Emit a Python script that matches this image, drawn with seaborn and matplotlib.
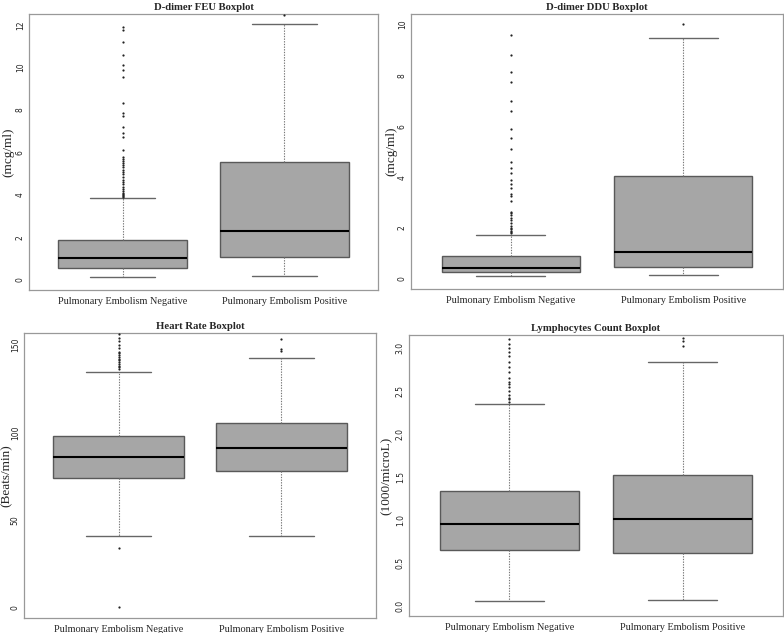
import pandas as pd
import matplotlib
matplotlib.use('Agg')
import matplotlib.pyplot as plt
import seaborn as sns

groups = ['Pulmonary Embolism Negative', 'Pulmonary Embolism Positive']

# box summary values: [lower whisker, Q1, median, Q3, upper whisker]
feu_neg = [0.14, 0.55, 1.02, 1.90, 3.87]
feu_pos = [0.17, 1.07, 2.31, 5.54, 12.06]
feu_neg_out = [3.92, 3.95, 4.0, 4.05, 4.1, 4.2, 4.3, 4.4, 4.5, 4.6, 4.7, 4.85, 5.0,
               5.1, 5.2, 5.3, 5.4, 5.5, 5.6, 5.7, 5.8, 6.12, 6.75, 6.9, 7.18, 7.72,
               7.87, 8.35, 9.54, 9.9, 10.1, 10.6, 11.18, 11.75, 11.9]
feu_pos_out = [12.49]

ddu_neg = [0.13, 0.27, 0.44, 0.89, 1.74]
ddu_pos = [0.16, 0.46, 1.05, 4.05, 9.45]
ddu_neg_out = [1.8, 1.85, 1.9, 1.95, 2.0, 2.1, 2.2, 2.3, 2.4, 2.5, 2.6, 2.65, 3.05,
               3.24, 3.33, 3.57, 3.73, 3.9, 4.16, 4.35, 4.61, 5.11, 5.53, 5.9, 6.6,
               6.97, 7.74, 8.12, 8.8, 9.58]
ddu_pos_out = [10.0]

hr_neg = [40.9, 74.1, 86.0, 98.0, 134.2]
hr_pos = [40.9, 78.0, 91.2, 105.1, 142.2]
hr_neg_out = [0, 33.9, 136, 137, 138, 139, 140, 141, 142, 143, 144, 145, 146, 148,
              150, 152, 154, 156]
hr_pos_out = [146.5, 147.5, 153]

lym_neg = [0.05, 0.65, 0.95, 1.33, 2.35]
lym_pos = [0.07, 0.61, 1.01, 1.52, 2.83]
lym_neg_out = [2.37, 2.4, 2.42, 2.45, 2.5, 2.55, 2.58, 2.6, 2.65, 2.72, 2.78, 2.83,
               2.9, 2.95, 3.0, 3.05, 3.1]
lym_pos_out = [3.02, 3.08, 3.12]

sns.set_style('white')
serif = ['Liberation Serif', 'DejaVu Serif']

W, H = 784, 633
fig = plt.figure(figsize=(W / 100, H / 100), dpi=100)


def panel(rect_px, label_x, neg, pos, neg_out, pos_out, title, ylabel, ylim, yticks, yticklabels):
    l, r, t, b = rect_px
    ax = fig.add_axes([l / W, (H - b) / H, (r - l) / W, (b - t) / H])
    box_df = pd.DataFrame({'group': [groups[0]] * len(neg) + [groups[1]] * len(pos),
                           'value': neg + pos})
    out_df = pd.DataFrame({'group': [groups[0]] * len(neg_out) + [groups[1]] * len(pos_out),
                           'value': neg_out + pos_out})
    sns.boxplot(data=box_df, x='group', y='value', order=groups, whis=(0, 100),
                width=0.8, color='#a6a6a6', saturation=1, linecolor='#595959',
                linewidth=1.0, showfliers=False, ax=ax,
                whiskerprops=dict(color='#777777', linestyle=(0, (1.2, 1.2)), linewidth=0.8),
                capprops=dict(color='#666666', linewidth=1.0),
                medianprops=dict(color='black', linewidth=1.5))
    sns.stripplot(data=out_df, x='group', y='value', order=groups, jitter=False,
                  color='#222222', size=1.6, linewidth=0, ax=ax)
    ax.set_xlim(-0.58, 1.58)
    ax.set_ylim(*ylim)
    ax.set_yticks(yticks)
    ax.set_yticklabels(yticklabels)
    ax.tick_params(axis='y', labelrotation=90, labelsize=5.5, pad=1, length=2,
                   color='#777777', labelcolor='#222222')
    for lbl in ax.get_yticklabels():
        lbl.set_va('center')
    ax.tick_params(axis='x', length=0, pad=5)
    for lbl in ax.get_xticklabels():
        lbl.set_fontfamily(serif)
        lbl.set_fontsize(7.4)
    ax.set_xlabel('')
    ax.set_ylabel(ylabel, family=serif, fontsize=9.5)
    # right edge of the rotated label sits at label_x pixels
    ax.yaxis.set_label_coords((label_x - l) / (r - l), 0.5)
    ax.set_title(title, family=serif, fontsize=7.7, fontweight='bold', pad=3)
    for s in ax.spines.values():
        s.set_color('#999999')
        s.set_linewidth(0.9)
    return ax


panel((29, 378, 14, 290), 14, feu_neg, feu_pos, feu_neg_out, feu_pos_out,
      'D-dimer FEU Boxplot', '(mcg/ml)', (-0.47, 12.52),
      [0, 2, 4, 6, 8, 10, 12], ['0', '2', '4', '6', '8', '10', '12'])
panel((411, 783, 14, 289), 397, ddu_neg, ddu_pos, ddu_neg_out, ddu_pos_out,
      'D-dimer DDU Boxplot', '(mcg/ml)', (-0.39, 10.4),
      [0, 2, 4, 6, 8, 10], ['0', '2', '4', '6', '8', '10'])
panel((24, 376, 333, 618), 13, hr_neg, hr_pos, hr_neg_out, hr_pos_out,
      'Heart Rate Boxplot', '(Beats/min)', (-6.1, 156.7),
      [0, 50, 100, 150], ['0', '50', '100', '150'])
panel((409, 783, 335, 616), 393, lym_neg, lym_pos, lym_neg_out, lym_pos_out,
      'Lymphocytes Count Boxplot', '(1000/microL)', (-0.12, 3.15),
      [0, 0.5, 1.0, 1.5, 2.0, 2.5, 3.0], ['0.0', '0.5', '1.0', '1.5', '2.0', '2.5', '3.0'])

fig.savefig('out.png', dpi=100)
